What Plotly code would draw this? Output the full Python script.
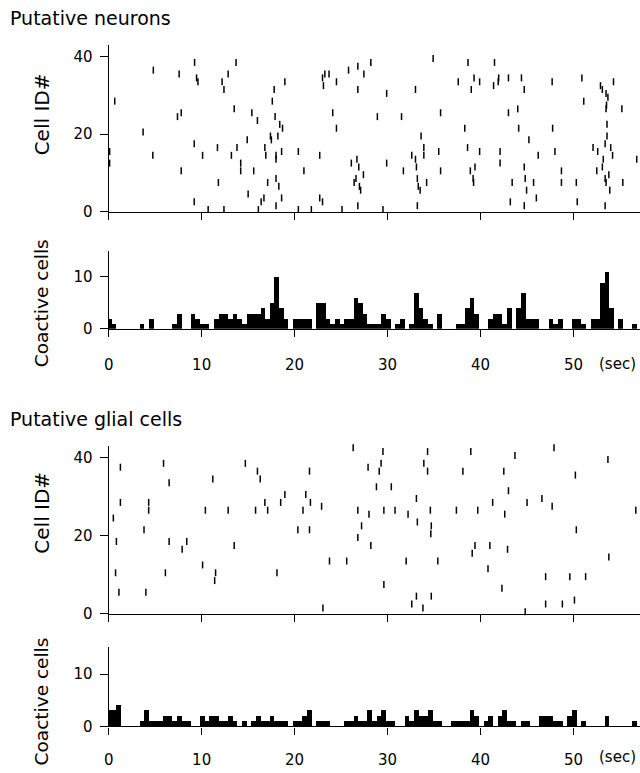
import plotly.graph_objects as go

# ---------------- data ----------------
# Putative neurons: spike times (s) and cell IDs
neuron_t = [0.1, 0.1, 0.65, 3.7, 4.8, 4.75, 7.58, 7.4, 7.8, 7.8, 9.24, 9.45, 9.6, 9.2, 9.2,
            10.1, 10.7, 11.7, 11.8, 12.2, 12.4, 12.4, 12.85, 13.5, 13.7, 13.8, 13.2, 14.2, 14.2,
            14.9, 15.0, 15.4, 15.6, 16.0, 16.1, 16.4, 16.7, 16.8, 16.9, 17.1, 17.4, 17.5, 17.6,
            17.8, 17.9, 18.0, 18.0, 18.2, 18.0, 18.3, 18.0, 18.4, 18.6, 18.6, 18.7, 18.95,
            20.4, 20.4, 21.0, 21.8, 22.7, 22.7, 23.0, 23.0, 23.1, 23.25, 23.7, 24.1, 24.5, 24.5,
            25.1, 25.8, 26.1, 26.4, 26.6, 26.7, 26.8, 26.8, 26.8, 26.9, 26.97, 27.1, 27.4, 27.45,
            28.2, 28.9, 29.5, 29.9, 29.9, 31.5, 31.7, 32.6, 33.0, 33.0, 33.1, 33.2, 33.3, 33.5,
            33.2, 33.6, 33.9, 33.9, 34.2, 34.9, 35.5, 35.7, 35.7, 37.6, 38.3, 38.6, 38.65, 38.9,
            39.0, 39.2, 39.25, 39.3, 39.4, 39.9, 39.9, 41.4, 41.5, 41.9, 41.95, 42.1, 42.1, 43.0,
            43.0, 43.2, 43.4, 44.0, 44.1, 44.4, 44.7, 44.7, 44.7, 44.8, 44.95, 45.2, 45.7, 46.0,
            46.2, 47.7, 47.75, 48.0, 48.7, 48.7, 50.3, 50.4, 50.9, 51.1, 52.1, 52.5, 52.6, 52.9,
            53.1, 53.1, 53.2, 53.4, 53.5, 53.5, 53.55, 53.6, 53.6, 53.4, 53.5, 53.4, 53.7, 53.8,
            53.9, 54.0, 54.2, 54.3, 55.2, 55.3, 56.8]
neuron_id = [15, 12, 28, 20, 36, 14, 35, 24, 25, 10, 38, 34, 33, 17, 2,
             14, 0, 16, 7, 33, 31, 0, 35, 26, 38, 16, 14, 12, 10,
             18, 4, 25, 10, 23, 0, 2, 3, 16, 14, 7, 19, 18, 28,
             31, 24, 14, 13, 19, 8, 6, 1, 22, 3, 15, 21, 33,
             15, 0, 10, 0, 14, 3, 2, 34, 32, 35, 35, 25, 33, 21,
             0, 36, 12, 7, 8, 13, 31, 37, 1, 11, 6, 5, 9, 35,
             38, 24, 0, 30, 12, 24, 10, 14, 13, 31, 11, 8, 6, 5,
             1, 19, 16, 14, 7, 39, 15, 25, 10, 33, 21, 16, 38, 10,
             31, 8, 7, 34, 11, 15, 33, 32, 38, 33, 34, 15, 12, 34,
             25, 2, 7, 26, 21, 34, 31, 1, 11, 8, 5, 18, 7, 3,
             14, 33, 21, 15, 10, 7, 7, 2, 34, 28, 16, 10, 15, 32,
             31, 11, 13, 17, 30, 26, 27, 22, 19, 8, 7, 1, 29, 9,
             5, 16, 14, 33, 26, 7, 13]

# Putative glial cells: event times (s) and cell IDs
glia_t = [0.5, 0.74, 0.83, 1.1, 1.26, 1.26, 3.8, 4.0, 4.3, 4.3, 5.9, 6.1, 6.5, 6.5, 7.9, 8.4,
          10.1, 10.4, 11.2, 11.5, 11.4, 12.85, 13.5, 14.7, 15.8, 16.0, 16.3, 16.8, 17.1, 18.1,
          18.5, 18.95, 20.35, 20.9, 21.2, 21.6, 21.6, 21.7, 22.9, 23.05, 23.75, 25.6, 26.3,
          26.8, 26.8, 27.2, 27.9, 28.0, 28.2, 28.8, 29.1, 29.3, 29.5, 29.6, 29.6, 30.4, 30.8,
          32.0, 32.2, 32.6, 33.1, 33.1, 33.2, 33.9, 33.8, 34.3, 34.3, 34.6, 34.7, 34.65, 34.7,
          35.4, 37.4, 38.1, 38.95, 39.1, 39.4, 39.7, 40.8, 41.0, 41.3, 42.3, 42.5, 42.6, 42.9,
          43.0, 43.7, 44.8, 45.0, 46.6, 47.0, 47.0, 47.7, 47.9, 48.8, 49.6, 50.2, 50.3, 50.1,
          51.3, 53.7, 53.8, 56.7]
glia_id = [24, 10, 18, 5, 37, 28, 21, 5, 28, 26, 38, 10, 33, 18, 16, 18,
           12, 26, 34, 10, 8, 26, 17, 38, 26, 36, 34, 28, 26, 10,
           28, 30, 21, 26, 30, 36, 21, 28, 27, 1, 13, 13, 42,
           26, 19, 22, 37, 25, 17, 32, 36, 38, 41, 26, 7, 32, 26,
           13, 25, 2, 4, 29, 23, 38, 1, 41, 36, 26, 22, 20, 4,
           13, 26, 36, 41, 15, 17, 26, 11, 17, 28, 6, 36, 25, 16,
           31, 40, 0, 28, 29, 9, 2, 27, 42, 2, 9, 35, 21, 3,
           9, 39, 14, 26]

# Coactive cells per 0.5-s bin (first bin centred at 0.05 s)
bin_width = 0.5
first_bin_center = 0.05
neuron_counts = [2, 1, 0, 0, 0, 0, 0, 1, 0, 2, 0, 0, 0, 0, 1, 3, 0, 0, 3, 2,
                 1, 1, 0, 2, 3, 3, 2, 3, 2, 1, 3, 3, 3, 4, 2, 5, 10, 4, 2, 0,
                 2, 2, 2, 2, 0, 5, 5, 2, 1, 2, 1, 2, 2, 6, 5, 3, 1, 1, 1, 3,
                 2, 0, 1, 2, 0, 1, 7, 4, 2, 1, 0, 3, 0, 0, 0, 1, 1, 4, 6, 3,
                 0, 0, 2, 3, 3, 1, 4, 0, 4, 7, 2, 2, 2, 0, 0, 2, 1, 2, 0, 0,
                 2, 2, 1, 0, 2, 2, 9, 11, 4, 0, 2, 0, 0, 1, 0]
glia_counts = [3, 3, 4, 0, 0, 0, 0, 1, 3, 1, 1, 1, 2, 2, 1, 2, 1, 1, 0, 0,
               2, 1, 2, 2, 1, 1, 2, 1, 0, 1, 0, 1, 2, 1, 1, 2, 1, 1, 1, 0,
               1, 1, 2, 3, 0, 1, 1, 1, 0, 0, 0, 1, 1, 2, 1, 1, 3, 1, 2, 3,
               1, 1, 0, 0, 2, 1, 3, 2, 2, 3, 1, 1, 0, 0, 1, 1, 1, 1, 3, 2,
               0, 1, 2, 0, 2, 3, 1, 1, 0, 1, 1, 0, 0, 2, 2, 2, 1, 1, 0, 2,
               3, 0, 1, 0, 0, 0, 0, 2, 0, 0, 0, 0, 0, 1, 0]

x_tick_vals = [0, 10, 20, 30, 40, 50]
raster_y_ticks = [0, 20, 40]
count_y_ticks = [0, 10]

# ---------------- figure ----------------
FONT = "DejaVu Sans"
W, H = 640, 773
XRANGE = [0, 57.15]

def py(px):
    return 1 - px / H

fig = go.Figure()

bin_centers = [first_bin_center + bin_width * k for k in range(len(neuron_counts))]

def raster(t, ids, xa, ya):
    fig.add_trace(go.Scatter(
        x=t, y=[i + 0.5 for i in ids], mode="markers", xaxis=xa, yaxis=ya,
        marker=dict(symbol="line-ns", size=5, line=dict(width=1.5, color="black"), color="black"),
        cliponaxis=False, showlegend=False, hoverinfo="skip"))

def bars(counts, xa, ya):
    fig.add_trace(go.Bar(
        x=bin_centers, y=counts, width=bin_width, xaxis=xa, yaxis=ya,
        marker=dict(color="black", line=dict(width=0)), showlegend=False, hoverinfo="skip"))

raster(neuron_t, neuron_id, "x", "y")
bars(neuron_counts, "x2", "y2")
raster(glia_t, glia_id, "x3", "y3")
bars(glia_counts, "x4", "y4")

axis_common = dict(showline=True, linecolor="black", linewidth=1.2, ticks="outside",
                   tickcolor="black", tickwidth=1.2, showgrid=False, zeroline=False,
                   tickfont=dict(family=FONT, size=15, color="black"), fixedrange=True)

xdom = [104.5 / W, 1.0]
domains = {
    1: [py(214), py(45.5)],
    2: [py(332.5), py(253.5)],
    3: [py(621), py(451)],
    4: [py(735), py(655)],
}
standoffs = {2: 15, 4: 12}

layout_axes = {}
for n in (1, 2, 3, 4):
    xk = "xaxis" if n == 1 else f"xaxis{n}"
    yk = "yaxis" if n == 1 else f"yaxis{n}"
    yname = "y" if n == 1 else f"y{n}"
    xname = "x" if n == 1 else f"x{n}"
    is_hist = n in (2, 4)
    layout_axes[xk] = dict(axis_common, domain=xdom, range=XRANGE, anchor=yname,
                           tickvals=x_tick_vals, ticklen=7, showticklabels=is_hist,
                           ticklabelstandoff=standoffs.get(n, 0))
    layout_axes[yk] = dict(axis_common, domain=domains[n], anchor=xname,
                           range=[0, 15.1] if is_hist else [0, 43],
                           tickvals=count_y_ticks if is_hist else raster_y_ticks,
                           ticklen=8, ticklabelstandoff=4)

fig.update_layout(**layout_axes)

ann = []
for text, ycen in [("Putative neurons", 18), ("Putative glial cells", 424)]:
    ann.append(dict(text=text, x=3 / W, y=py(ycen), xref="paper", yref="paper",
                    xanchor="left", yanchor="middle", showarrow=False,
                    font=dict(family=FONT, size=19, color="black")))
for text, ycen, size in [("Cell ID#", 116, 20), ("Coactive cells", 307, 18.5),
                         ("Cell ID#", 519, 20), ("Coactive cells", 710, 18.5)]:
    ann.append(dict(text=text, x=37 / W, y=py(ycen), xref="paper", yref="paper",
                    xanchor="center", yanchor="middle", textangle=-90, showarrow=False,
                    font=dict(family=FONT, size=size, color="black")))
for ycen in (368, 766):
    ann.append(dict(text="(sec)", x=54.7, y=py(ycen), xref="x2", yref="paper",
                    xanchor="center", yanchor="middle", showarrow=False,
                    font=dict(family=FONT, size=15, color="black")))

fig.update_layout(width=W, height=H, margin=dict(l=0, r=0, t=0, b=0),
                  paper_bgcolor="white", plot_bgcolor="white", bargap=0,
                  annotations=ann)

fig.write_html("out.html", config={"displayModeBar": False},
               post_script="document.body.style.margin='0px';"
                           "document.documentElement.style.overflow='hidden';")
